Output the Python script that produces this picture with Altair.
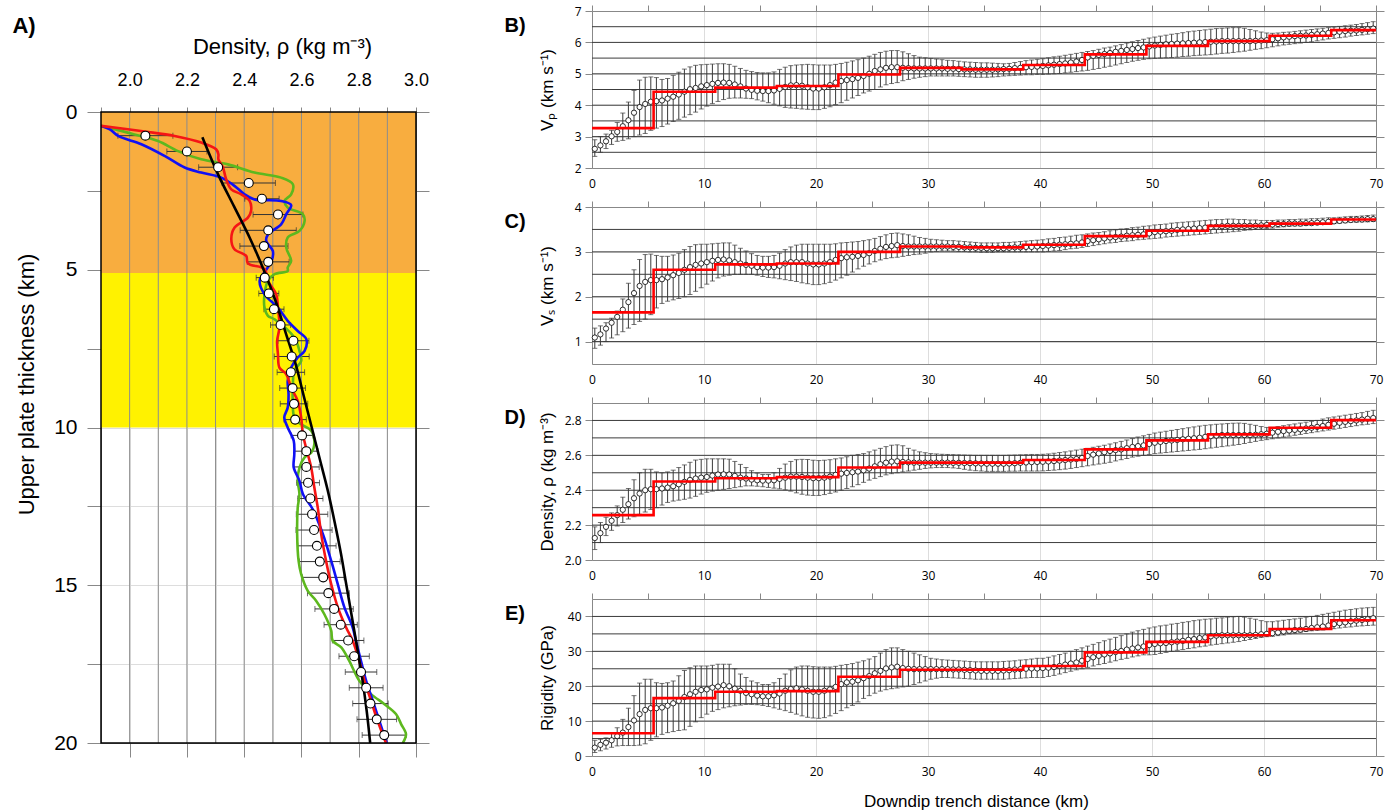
import altair as alt
import pandas as pd

# ---------------- Panel A data ----------------
depth_pts = [0.75, 1.25, 1.75, 2.25, 2.75, 3.25, 3.75, 4.25, 4.75, 5.25,
             5.75, 6.25, 6.75, 7.25, 7.75, 8.25, 8.75, 9.25, 9.75, 10.25,
             10.75, 11.25, 11.75, 12.25, 12.75, 13.25, 13.75, 14.25, 14.75, 15.25,
             15.75, 16.25, 16.75, 17.25, 17.75, 18.25, 18.75, 19.25, 19.75]
rho_pts = [2.055, 2.200, 2.309, 2.416, 2.462, 2.518, 2.484, 2.469, 2.484, 2.472,
           2.486, 2.504, 2.527, 2.572, 2.566, 2.563, 2.569, 2.574, 2.578, 2.602,
           2.617, 2.617, 2.623, 2.631, 2.637, 2.644, 2.654, 2.664, 2.676, 2.694,
           2.714, 2.737, 2.763, 2.784, 2.808, 2.826, 2.841, 2.863, 2.889]
rho_err = [0.096, 0.070, 0.068, 0.093, 0.060, 0.087, 0.098, 0.084, 0.073, 0.030,
           0.035, 0.035, 0.035, 0.054, 0.061, 0.048, 0.045, 0.048, 0.039, 0.038,
           0.041, 0.045, 0.040, 0.044, 0.055, 0.063, 0.067, 0.071, 0.073, 0.073,
           0.067, 0.058, 0.055, 0.053, 0.055, 0.059, 0.062, 0.069, 0.077]

red_depth = [0.44, 0.62, 0.76, 0.97, 1.18, 1.34, 1.5, 1.76, 2.13, 2.45, 2.61, 2.82, 3.14, 3.35,
             3.67, 4.03, 4.35, 4.56, 4.8, 4.98, 5.35, 5.78, 6.2, 6.83, 7.26, 7.68, 8.1, 8.31,
             8.73, 9.16, 9.68, 10.21, 10.64, 11.27, 11.9, 12.54, 13.38, 14.23, 14.97, 15.7,
             16.34, 16.76, 17.4, 18.03, 18.66, 19.3, 20.0]
red_rho = [1.90, 2.053, 2.157, 2.25, 2.302, 2.31, 2.31, 2.326, 2.337, 2.355, 2.39, 2.419, 2.424, 2.413,
           2.366, 2.355, 2.366, 2.407, 2.413, 2.471, 2.483, 2.512, 2.518, 2.523, 2.515, 2.518, 2.523, 2.547,
           2.564, 2.587, 2.599, 2.605, 2.616, 2.634, 2.645, 2.657, 2.669, 2.686, 2.704, 2.727,
           2.756, 2.779, 2.802, 2.82, 2.843, 2.866, 2.895]

blue_depth = [0.44, 0.55, 0.76, 1.02, 1.39, 1.76, 1.92, 2.08, 2.34, 2.6, 2.77, 2.82, 2.95, 3.24,
              3.56, 3.88, 4.09, 4.4, 4.72, 5.04, 5.35, 5.78, 6.2, 6.62, 6.94, 7.2, 7.57, 7.78,
              8.1, 8.52, 8.95, 9.37, 9.68, 10.0, 10.42, 10.85, 11.27, 11.69, 12.11, 12.6, 13.38,
              14.23, 14.97, 15.7, 16.34, 16.76, 17.4, 18.03, 18.66, 19.3, 20.0]
blue_rho = [1.90, 1.931, 1.96, 2.041, 2.122, 2.192, 2.25, 2.32, 2.366, 2.40, 2.436, 2.529, 2.564, 2.547,
            2.529, 2.483, 2.477, 2.50, 2.496, 2.474, 2.454, 2.471, 2.518, 2.552, 2.587, 2.617, 2.611, 2.587,
            2.564, 2.552, 2.555, 2.552, 2.54, 2.552, 2.573, 2.575, 2.573, 2.593, 2.605, 2.64, 2.675,
            2.704, 2.727, 2.75, 2.779, 2.79, 2.808, 2.826, 2.849, 2.872, 2.898]

green_depth = [0.44, 0.71, 0.92, 1.24, 1.5, 1.66, 1.92, 2.08, 2.29, 2.61, 2.82, 3.03, 3.24, 3.45,
               3.77, 3.98, 4.3, 4.72, 4.93, 5.04, 5.14, 5.35, 5.78, 6.2, 6.46, 6.57, 7.15, 7.57,
               7.89, 8.2, 8.73, 9.37, 9.68, 9.9, 10.1, 10.53, 10.8, 10.95, 11.27, 11.69, 12.11,
               12.54, 13.38, 14.23, 14.65, 15.18, 15.49, 15.92, 16.44, 16.76, 16.97, 17.4, 18.03,
               18.45, 18.77, 19.08, 19.4, 19.72, 20.0]
green_rho = [1.90, 2.017, 2.099, 2.169, 2.25, 2.343, 2.436, 2.529, 2.57, 2.564, 2.541, 2.552, 2.605, 2.611,
             2.593, 2.552, 2.547, 2.564, 2.552, 2.552, 2.506, 2.483, 2.471, 2.471, 2.483, 2.506, 2.575, 2.593,
             2.599, 2.575, 2.57, 2.57, 2.575, 2.599, 2.634, 2.645, 2.634, 2.611, 2.593, 2.587, 2.593,
             2.587, 2.585, 2.59, 2.599, 2.622, 2.651, 2.68, 2.704, 2.709, 2.739, 2.767, 2.802,
             2.843, 2.89, 2.93, 2.948, 2.965, 2.954]

fit_depth = [0.8, 2, 3, 4, 5, 6, 7, 8, 9, 10, 11, 12, 13, 14, 15, 16, 17, 18, 19, 20]
fit_rho = [2.254, 2.31, 2.365, 2.42, 2.468, 2.51, 2.545, 2.58, 2.608, 2.636, 2.664, 2.692,
           2.716, 2.738, 2.757, 2.776, 2.795, 2.813, 2.828, 2.84]

zone_top = [0, 5.1]
zone_bot = [5.1, 10]
zone_color = ["#F8AD3F", "#FFF200"]

a_grid = [2.0, 2.1, 2.2, 2.3, 2.4, 2.5, 2.6, 2.7, 2.8, 2.9]
a_top_ticks = [1.9, 2.0, 2.1, 2.2, 2.3, 2.4, 2.5, 2.6, 2.7, 2.8, 2.9, 3.0]
a_x_labels = [2.0, 2.2, 2.4, 2.6, 2.8, 3.0]
a_y_ticks = [0, 2.5, 5, 7.5, 10, 12.5, 15, 17.5, 20]

# ---------------- Panels B-E data ----------------
dist = [0.25 + 0.5 * i for i in range(140)]

vp_mean = [2.61, 2.72, 2.85, 3.01, 3.15, 3.33, 3.52, 3.76, 3.94, 4.04,
           4.11, 4.13, 4.15, 4.21, 4.27, 4.34, 4.43, 4.51, 4.55, 4.60,
           4.64, 4.68, 4.71, 4.72, 4.71, 4.66, 4.60, 4.53, 4.49, 4.46,
           4.45, 4.45, 4.47, 4.52, 4.58, 4.63, 4.64, 4.62, 4.57, 4.53,
           4.53, 4.57, 4.64, 4.72, 4.77, 4.80, 4.83, 4.87, 4.93, 5.00,
           5.09, 5.14, 5.19, 5.21, 5.21, 5.19, 5.18, 5.17, 5.17, 5.17,
           5.17, 5.17, 5.17, 5.16, 5.16, 5.15, 5.14, 5.14, 5.13, 5.13,
           5.13, 5.13, 5.14, 5.15, 5.16, 5.18, 5.19, 5.21, 5.22, 5.23,
           5.25, 5.27, 5.29, 5.31, 5.33, 5.36, 5.39, 5.44, 5.52, 5.57,
           5.60, 5.63, 5.66, 5.70, 5.73, 5.76, 5.79, 5.82, 5.84, 5.87,
           5.90, 5.92, 5.94, 5.95, 5.96, 5.97, 5.98, 5.99, 6.00, 6.01,
           6.02, 6.03, 6.04, 6.04, 6.04, 6.04, 6.04, 6.04, 6.05, 6.06,
           6.07, 6.10, 6.13, 6.16, 6.18, 6.20, 6.21, 6.22, 6.24, 6.26,
           6.28, 6.30, 6.32, 6.34, 6.36, 6.37, 6.38, 6.40, 6.42, 6.44]
vp_hi = [2.90, 3.00, 3.08, 3.20, 3.45, 3.75, 4.10, 4.47, 4.80, 4.89,
         4.90, 4.88, 4.82, 4.85, 4.95, 5.05, 5.15, 5.22, 5.27, 5.29,
         5.30, 5.31, 5.32, 5.32, 5.30, 5.24, 5.17, 5.11, 5.07, 5.04,
         5.03, 5.03, 5.06, 5.14, 5.21, 5.26, 5.28, 5.29, 5.30, 5.29,
         5.28, 5.28, 5.28, 5.30, 5.33, 5.37, 5.41, 5.45, 5.50, 5.56,
         5.62, 5.68, 5.72, 5.74, 5.74, 5.70, 5.64, 5.58, 5.53, 5.51,
         5.49, 5.47, 5.45, 5.43, 5.42, 5.40, 5.38, 5.37, 5.36, 5.35,
         5.35, 5.34, 5.33, 5.32, 5.33, 5.36, 5.39, 5.42, 5.44, 5.46,
         5.48, 5.51, 5.54, 5.56, 5.59, 5.62, 5.65, 5.68, 5.71, 5.74,
         5.78, 5.82, 5.85, 5.89, 5.93, 5.98, 6.02, 6.06, 6.10, 6.14,
         6.17, 6.20, 6.23, 6.26, 6.28, 6.31, 6.34, 6.36, 6.38, 6.40,
         6.42, 6.44, 6.45, 6.46, 6.47, 6.47, 6.45, 6.41, 6.37, 6.33,
         6.30, 6.29, 6.30, 6.32, 6.33, 6.35, 6.37, 6.39, 6.41, 6.43,
         6.45, 6.47, 6.49, 6.51, 6.53, 6.55, 6.57, 6.60, 6.63, 6.66]
vp_lo = [2.37, 2.50, 2.62, 2.75, 2.85, 2.88, 2.93, 3.00, 3.05, 3.10,
         3.20, 3.27, 3.32, 3.40, 3.48, 3.55, 3.62, 3.70, 3.78, 3.88,
         3.97, 4.05, 4.12, 4.18, 4.22, 4.23, 4.23, 4.22, 4.21, 4.17,
         4.13, 4.08, 4.03, 3.98, 3.93, 3.91, 3.90, 3.88, 3.87, 3.86,
         3.86, 3.90, 3.95, 4.02, 4.08, 4.16, 4.23, 4.31, 4.39, 4.45,
         4.50, 4.58, 4.65, 4.69, 4.72, 4.78, 4.82, 4.86, 4.89, 4.91,
         4.93, 4.93, 4.93, 4.93, 4.93, 4.92, 4.91, 4.90, 4.89, 4.89,
         4.89, 4.90, 4.91, 4.93, 4.94, 4.95, 4.96, 4.97, 4.97, 4.98,
         4.98, 4.99, 5.00, 5.01, 5.03, 5.05, 5.07, 5.09, 5.11, 5.14,
         5.17, 5.21, 5.24, 5.28, 5.32, 5.36, 5.40, 5.43, 5.46, 5.48,
         5.49, 5.50, 5.51, 5.52, 5.53, 5.55, 5.56, 5.58, 5.59, 5.60,
         5.61, 5.63, 5.65, 5.66, 5.68, 5.70, 5.72, 5.75, 5.78, 5.80,
         5.83, 5.86, 5.89, 5.92, 5.94, 5.96, 5.98, 6.00, 6.02, 6.05,
         6.08, 6.11, 6.13, 6.15, 6.17, 6.20, 6.22, 6.24, 6.26, 6.28]

vs_mean = [1.09, 1.16, 1.29, 1.42, 1.55, 1.71, 1.88, 2.08, 2.24, 2.33,
           2.37, 2.37, 2.39, 2.43, 2.48, 2.53, 2.60, 2.66, 2.71, 2.74,
           2.77, 2.80, 2.82, 2.83, 2.81, 2.77, 2.74, 2.71, 2.69, 2.66,
           2.65, 2.65, 2.66, 2.69, 2.74, 2.77, 2.77, 2.77, 2.74, 2.72,
           2.72, 2.74, 2.77, 2.82, 2.86, 2.88, 2.89, 2.91, 2.93, 2.97,
           3.02, 3.07, 3.11, 3.13, 3.15, 3.13, 3.12, 3.12, 3.12, 3.12,
           3.12, 3.12, 3.12, 3.12, 3.11, 3.11, 3.10, 3.10, 3.09, 3.09,
           3.08, 3.08, 3.08, 3.08, 3.09, 3.10, 3.10, 3.11, 3.11, 3.12,
           3.13, 3.14, 3.15, 3.16, 3.17, 3.18, 3.19, 3.21, 3.24, 3.26,
           3.28, 3.30, 3.32, 3.33, 3.34, 3.36, 3.37, 3.38, 3.39, 3.41,
           3.44, 3.45, 3.46, 3.47, 3.49, 3.50, 3.51, 3.52, 3.53, 3.54,
           3.55, 3.56, 3.57, 3.58, 3.58, 3.58, 3.58, 3.58, 3.58, 3.59,
           3.60, 3.61, 3.62, 3.62, 3.63, 3.63, 3.63, 3.64, 3.64, 3.65,
           3.66, 3.67, 3.68, 3.69, 3.70, 3.71, 3.72, 3.72, 3.73, 3.73]
vs_hi = [1.30, 1.35, 1.42, 1.52, 1.68, 1.95, 2.30, 2.60, 2.83, 2.94,
         2.95, 2.92, 2.90, 2.90, 2.93, 2.97, 3.05, 3.12, 3.16, 3.17,
         3.17, 3.18, 3.19, 3.20, 3.20, 3.15, 3.08, 3.02, 2.96, 2.92,
         2.90, 2.90, 2.92, 2.97, 3.05, 3.11, 3.15, 3.17, 3.17, 3.17,
         3.17, 3.17, 3.17, 3.18, 3.20, 3.21, 3.22, 3.23, 3.25, 3.27,
         3.30, 3.34, 3.38, 3.41, 3.42, 3.40, 3.38, 3.35, 3.32, 3.30,
         3.28, 3.27, 3.26, 3.25, 3.25, 3.24, 3.23, 3.22, 3.21, 3.20,
         3.20, 3.20, 3.20, 3.21, 3.21, 3.22, 3.23, 3.24, 3.25, 3.26,
         3.27, 3.29, 3.30, 3.32, 3.33, 3.35, 3.37, 3.38, 3.40, 3.42,
         3.43, 3.45, 3.47, 3.49, 3.51, 3.52, 3.54, 3.55, 3.57, 3.58,
         3.60, 3.61, 3.62, 3.64, 3.65, 3.66, 3.67, 3.68, 3.69, 3.70,
         3.71, 3.72, 3.72, 3.73, 3.73, 3.72, 3.72, 3.71, 3.71, 3.70,
         3.70, 3.70, 3.71, 3.71, 3.72, 3.72, 3.73, 3.73, 3.74, 3.74,
         3.75, 3.76, 3.76, 3.77, 3.78, 3.79, 3.79, 3.80, 3.81, 3.82]
vs_lo = [0.85, 0.92, 1.00, 1.08, 1.15, 1.22, 1.30, 1.38, 1.45, 1.50,
         1.60, 1.75, 1.85, 1.90, 1.93, 1.96, 2.00, 2.05, 2.12, 2.20,
         2.28, 2.35, 2.42, 2.46, 2.48, 2.50, 2.50, 2.50, 2.50, 2.48,
         2.45, 2.43, 2.42, 2.40, 2.38, 2.36, 2.34, 2.31, 2.29, 2.27,
         2.27, 2.29, 2.32, 2.37, 2.42, 2.48, 2.55, 2.62, 2.68, 2.73,
         2.78, 2.82, 2.85, 2.87, 2.88, 2.90, 2.92, 2.94, 2.95, 2.97,
         3.00, 3.01, 3.02, 3.02, 3.02, 3.01, 3.01, 3.00, 3.00, 2.99,
         2.99, 2.99, 3.00, 3.00, 3.00, 3.00, 3.00, 3.00, 3.00, 3.00,
         3.00, 3.01, 3.02, 3.03, 3.05, 3.07, 3.08, 3.10, 3.12, 3.14,
         3.16, 3.18, 3.20, 3.21, 3.23, 3.24, 3.25, 3.27, 3.28, 3.29,
         3.30, 3.31, 3.33, 3.34, 3.35, 3.36, 3.37, 3.38, 3.39, 3.40,
         3.41, 3.42, 3.43, 3.44, 3.45, 3.46, 3.48, 3.49, 3.50, 3.51,
         3.52, 3.53, 3.55, 3.56, 3.57, 3.58, 3.58, 3.59, 3.60, 3.61,
         3.62, 3.63, 3.63, 3.64, 3.65, 3.66, 3.66, 3.67, 3.67, 3.68]

den_mean = [2.126, 2.154, 2.190, 2.225, 2.257, 2.288, 2.320, 2.354, 2.381, 2.400,
            2.406, 2.406, 2.410, 2.415, 2.423, 2.434, 2.448, 2.459, 2.467, 2.472,
            2.476, 2.484, 2.490, 2.491, 2.490, 2.482, 2.472, 2.467, 2.461, 2.457,
            2.455, 2.455, 2.457, 2.465, 2.472, 2.478, 2.478, 2.476, 2.472, 2.469,
            2.469, 2.472, 2.478, 2.488, 2.495, 2.499, 2.503, 2.507, 2.514, 2.524,
            2.537, 2.549, 2.558, 2.564, 2.566, 2.562, 2.560, 2.558, 2.558, 2.558,
            2.558, 2.558, 2.558, 2.558, 2.557, 2.557, 2.556, 2.555, 2.554, 2.553,
            2.552, 2.552, 2.552, 2.552, 2.553, 2.555, 2.557, 2.559, 2.561, 2.562,
            2.563, 2.565, 2.567, 2.570, 2.573, 2.576, 2.579, 2.585, 2.596, 2.604,
            2.611, 2.618, 2.625, 2.630, 2.634, 2.641, 2.648, 2.653, 2.657, 2.665,
            2.672, 2.677, 2.682, 2.685, 2.688, 2.692, 2.695, 2.698, 2.701, 2.706,
            2.710, 2.713, 2.716, 2.716, 2.716, 2.716, 2.716, 2.716, 2.718, 2.721,
            2.724, 2.730, 2.735, 2.739, 2.743, 2.746, 2.749, 2.754, 2.758, 2.763,
            2.768, 2.775, 2.781, 2.787, 2.792, 2.796, 2.800, 2.805, 2.810, 2.814]
den_hi = [2.190, 2.215, 2.245, 2.270, 2.310, 2.360, 2.410, 2.460, 2.500, 2.520,
          2.520, 2.505, 2.500, 2.505, 2.515, 2.530, 2.545, 2.560, 2.573, 2.577,
          2.580, 2.580, 2.580, 2.580, 2.578, 2.565, 2.548, 2.530, 2.512, 2.498,
          2.490, 2.490, 2.500, 2.525, 2.550, 2.565, 2.575, 2.577, 2.576, 2.572,
          2.570, 2.572, 2.575, 2.580, 2.585, 2.592, 2.600, 2.605, 2.610, 2.620,
          2.630, 2.640, 2.650, 2.658, 2.660, 2.655, 2.640, 2.630, 2.620, 2.615,
          2.610, 2.608, 2.606, 2.605, 2.604, 2.603, 2.602, 2.601, 2.600, 2.600,
          2.600, 2.600, 2.600, 2.600, 2.601, 2.602, 2.603, 2.604, 2.605, 2.605,
          2.606, 2.608, 2.612, 2.616, 2.620, 2.625, 2.630, 2.635, 2.640, 2.646,
          2.652, 2.658, 2.665, 2.672, 2.680, 2.688, 2.696, 2.705, 2.712, 2.720,
          2.728, 2.733, 2.738, 2.743, 2.748, 2.753, 2.758, 2.763, 2.768, 2.772,
          2.775, 2.778, 2.780, 2.782, 2.784, 2.785, 2.783, 2.778, 2.772, 2.765,
          2.760, 2.760, 2.765, 2.770, 2.775, 2.780, 2.785, 2.790, 2.795, 2.800,
          2.808, 2.815, 2.820, 2.825, 2.830, 2.835, 2.840, 2.845, 2.852, 2.858]
den_lo = [2.060, 2.100, 2.140, 2.170, 2.195, 2.215, 2.235, 2.248, 2.262, 2.275,
          2.290, 2.300, 2.315, 2.330, 2.338, 2.343, 2.348, 2.355, 2.365, 2.378,
          2.388, 2.395, 2.400, 2.405, 2.410, 2.415, 2.420, 2.425, 2.425, 2.423,
          2.420, 2.416, 2.412, 2.408, 2.402, 2.395, 2.385, 2.377, 2.372, 2.370,
          2.370, 2.375, 2.382, 2.390, 2.400, 2.410, 2.420, 2.432, 2.445, 2.458,
          2.468, 2.478, 2.488, 2.495, 2.500, 2.505, 2.510, 2.515, 2.520, 2.525,
          2.528, 2.530, 2.530, 2.530, 2.528, 2.525, 2.520, 2.515, 2.512, 2.510,
          2.508, 2.508, 2.508, 2.508, 2.509, 2.509, 2.510, 2.510, 2.510, 2.510,
          2.511, 2.513, 2.515, 2.518, 2.521, 2.525, 2.530, 2.535, 2.540, 2.545,
          2.550, 2.555, 2.560, 2.568, 2.575, 2.582, 2.590, 2.595, 2.600, 2.605,
          2.610, 2.613, 2.616, 2.619, 2.622, 2.625, 2.628, 2.631, 2.634, 2.638,
          2.642, 2.646, 2.650, 2.654, 2.658, 2.662, 2.668, 2.674, 2.680, 2.686,
          2.690, 2.695, 2.700, 2.705, 2.710, 2.715, 2.720, 2.725, 2.730, 2.735,
          2.740, 2.745, 2.750, 2.755, 2.760, 2.765, 2.770, 2.775, 2.778, 2.782]

rig_mean = [2.4, 3.2, 3.8, 4.5, 5.7, 6.7, 8.3, 10.2, 12.0, 13.2,
            13.7, 13.7, 13.9, 14.4, 15.1, 15.8, 16.9, 17.7, 18.4, 18.9,
            19.1, 19.6, 19.9, 20.3, 20.0, 19.3, 18.7, 18.1, 17.7, 17.3,
            17.1, 17.1, 17.4, 17.9, 18.7, 19.2, 19.4, 19.1, 18.7, 18.4,
            18.4, 18.7, 19.1, 19.8, 20.6, 21.1, 21.3, 21.7, 22.3, 22.9,
            23.7, 24.4, 25.1, 25.4, 25.6, 25.2, 25.0, 24.9, 24.9, 24.9,
            24.9, 24.9, 24.9, 24.9, 24.8, 24.8, 24.7, 24.6, 24.5, 24.4,
            24.4, 24.4, 24.4, 24.5, 24.6, 24.8, 24.9, 25.0, 25.1, 25.1,
            25.2, 25.3, 25.5, 25.8, 26.2, 26.5, 26.8, 27.3, 27.8, 28.3,
            28.7, 29.1, 29.4, 29.8, 30.1, 30.5, 30.8, 31.1, 31.4, 31.8,
            32.1, 32.3, 32.4, 32.6, 32.8, 33.0, 33.3, 33.5, 33.8, 34.0,
            34.3, 34.5, 34.6, 34.6, 34.6, 34.6, 34.6, 34.6, 34.7, 34.9,
            35.0, 35.2, 35.4, 35.7, 35.9, 36.1, 36.2, 36.4, 36.7, 36.9,
            37.1, 37.4, 37.8, 38.1, 38.3, 38.6, 38.8, 39.0, 39.2, 39.5]
rig_hi = [4.5, 4.8, 5.2, 6.5, 8.1, 10.5, 13.7, 17.3, 20.9, 22.0,
          22.0, 21.0, 20.8, 21.0, 21.5, 23.0, 24.5, 25.3, 25.8, 25.8,
          25.8, 26.0, 26.3, 26.3, 26.3, 25.0, 23.5, 22.5, 21.5, 21.0,
          20.5, 20.5, 21.0, 22.2, 23.5, 24.7, 25.5, 25.8, 25.8, 25.6,
          25.5, 25.5, 25.5, 25.7, 26.0, 26.2, 26.5, 26.9, 27.3, 27.8,
          28.5, 29.5, 30.5, 31.0, 31.0, 30.5, 30.0, 29.5, 29.0, 28.5,
          28.0, 27.8, 27.6, 27.5, 27.4, 27.3, 27.2, 27.1, 27.0, 27.0,
          27.0, 27.0, 27.0, 27.1, 27.2, 27.3, 27.5, 27.6, 27.8, 28.0,
          28.0, 28.3, 28.7, 29.1, 29.5, 30.0, 30.5, 31.0, 31.5, 32.0,
          32.5, 33.0, 33.5, 34.0, 34.5, 35.0, 35.5, 35.9, 36.3, 36.7,
          37.0, 37.3, 37.5, 37.8, 38.0, 38.3, 38.5, 38.8, 39.0, 39.2,
          39.3, 39.5, 39.6, 39.8, 39.9, 40.0, 39.8, 39.5, 39.2, 38.8,
          38.5, 38.5, 38.7, 38.9, 39.1, 39.3, 39.5, 39.8, 40.0, 40.3,
          40.6, 40.9, 41.2, 41.5, 41.8, 42.0, 42.2, 42.4, 42.5, 42.6]
rig_lo = [1.0, 1.5, 2.0, 2.5, 2.9, 3.0, 3.0, 3.0, 3.1, 3.5,
          4.5, 5.5, 6.2, 6.7, 7.0, 7.3, 7.5, 8.5, 9.8, 11.0,
          12.0, 12.8, 13.3, 13.8, 14.1, 14.4, 14.6, 14.8, 14.8, 14.7,
          14.5, 14.2, 13.8, 13.4, 13.0, 12.5, 12.0, 11.5, 11.1, 10.9,
          10.8, 11.0, 11.5, 12.2, 13.0, 13.8, 14.5, 15.5, 16.5, 17.3,
          18.0, 18.6, 19.0, 19.3, 19.5, 19.8, 20.0, 20.5, 21.0, 21.5,
          22.0, 22.3, 22.5, 22.5, 22.4, 22.3, 22.2, 22.1, 22.0, 22.0,
          22.0, 22.0, 22.0, 22.0, 22.1, 22.2, 22.3, 22.4, 22.5, 22.5,
          22.5, 22.8, 23.1, 23.5, 23.9, 24.3, 24.7, 25.0, 25.4, 25.8,
          26.2, 26.5, 26.9, 27.3, 27.7, 28.0, 28.4, 28.7, 29.0, 29.0,
          29.1, 29.4, 29.7, 30.0, 30.3, 30.5, 30.8, 31.0, 31.3, 31.5,
          31.8, 32.0, 32.2, 32.4, 32.6, 32.8, 33.1, 33.4, 33.7, 34.0,
          34.2, 34.3, 34.5, 34.7, 35.0, 35.2, 35.5, 35.7, 35.9, 36.0,
          36.1, 36.3, 36.5, 36.7, 36.9, 37.0, 37.2, 37.3, 37.4, 37.5]

step_x = [0, 5.5, 11, 16.5, 22, 27.5, 33, 38.5, 44, 49.5, 55, 60.5, 66, 70]
vp_step = [3.27, 4.43, 4.56, 4.61, 4.98, 5.19, 5.14, 5.28, 5.62, 5.89, 6.04, 6.21, 6.39, 6.39]
vs_step = [1.65, 2.60, 2.72, 2.74, 3.00, 3.12, 3.10, 3.16, 3.35, 3.47, 3.58, 3.63, 3.72, 3.72]
den_step = [2.257, 2.450, 2.469, 2.475, 2.530, 2.558, 2.558, 2.573, 2.634, 2.686, 2.720, 2.758, 2.802, 2.802]
rig_step = [6.5, 16.6, 18.4, 18.6, 22.7, 24.7, 24.7, 25.8, 29.7, 32.7, 34.6, 36.4, 38.9, 38.9]

x_labels = [0, 10, 20, 30, 40, 50, 60, 70]
x_top_ticks = [0, 5, 10, 15, 20, 25, 30, 35, 40, 45, 50, 55, 60, 65, 70]

# ---------------- Style ----------------
FONT_A = "Liberation Sans"
FONT_T = "Open Sans"
WA, HA = 315, 631
WR, HR = 784, 157

one = pd.DataFrame({"a": [0]})

# ---------------- Panel A ----------------
xA = alt.Scale(domain=[1.9, 3.0], nice=False, zero=False)
yA = alt.Scale(domain=[0, 20], nice=False, zero=False, reverse=True)

zones = pd.DataFrame({"top": zone_top, "bot": zone_bot, "c": zone_color})
bg = alt.Chart(zones).mark_rect().encode(
    y=alt.Y("top:Q", scale=yA, axis=alt.Axis(
        orient="left", values=a_y_ticks, tickSize=14, labelPadding=10,
        labelExpr="datum.value % 5 == 0 ? datum.label : ''",
        labelFont=FONT_A, labelFontSize=21, labelFlush=False, labelOverlap=False,
        title="Upper plate thickness (km)", titleFont=FONT_A, titleFontSize=22,
        titleFontWeight="normal", titleX=-75, titleY=272, titleBaseline="middle",
        titleAlign="center", titleAngle=270)),
    y2="bot:Q",
    x=alt.value(0), x2=alt.value(WA),
    color=alt.Color("c:N", scale=None),
)

gridA = alt.Chart(pd.DataFrame({"g": a_grid})).mark_rule(color="#8d8d8d", strokeWidth=1).encode(
    x=alt.X("g:Q", scale=xA, axis=alt.Axis(
        orient="top", values=a_top_ticks, tickSize=5, labelPadding=18,
        labelExpr="round(datum.value * 10) % 2 == 0 ? format(datum.value, '.1f') : ''",
        labelFont=FONT_A, labelFontSize=18, labelFlush=False, labelOverlap=False,
        title="Density, ρ (kg m⁻³)", titleFont=FONT_A, titleFontSize=22,
        titleFontWeight="normal", titleX=181, titleY=-66, titleBaseline="middle",
        titleAlign="center")),
    y=alt.value(0), y2=alt.value(HA),
)

dfA = pd.DataFrame({"d": depth_pts, "r": rho_pts, "e": rho_err})
dfA["lo"] = dfA["r"] - dfA["e"]
dfA["hi"] = dfA["r"] + dfA["e"]

errA = alt.Chart(dfA).mark_rule(color="#333333", strokeWidth=1).encode(
    x=alt.X("lo:Q", scale=xA, axis=None), x2="hi:Q",
    y=alt.Y("d:Q", scale=yA, axis=None))
capA_lo = alt.Chart(dfA).mark_tick(orient="vertical", size=6, thickness=1, color="#333333").encode(
    x=alt.X("lo:Q", scale=xA, axis=None), y=alt.Y("d:Q", scale=yA, axis=None))
capA_hi = alt.Chart(dfA).mark_tick(orient="vertical", size=6, thickness=1, color="#333333").encode(
    x=alt.X("hi:Q", scale=xA, axis=None), y=alt.Y("d:Q", scale=yA, axis=None))


def curve(d, r, color):
    df = pd.DataFrame({"d": d, "r": r, "o": list(range(len(d)))})
    return alt.Chart(df).mark_line(color=color, strokeWidth=2.6, interpolate="catmull-rom",
                                   clip=True).encode(
        x=alt.X("r:Q", scale=xA, axis=None),
        y=alt.Y("d:Q", scale=yA, axis=None),
        order="o:Q")


green = curve(green_depth, green_rho, "#5DB81E")
blue = curve(blue_depth, blue_rho, "#1010F5")
red = curve(red_depth, red_rho, "#F51515")

fit_df = pd.DataFrame({"d": fit_depth, "r": fit_rho, "o": list(range(len(fit_depth)))})
black = alt.Chart(fit_df).mark_line(color="black", strokeWidth=2.6, interpolate="catmull-rom").encode(
    x=alt.X("r:Q", scale=xA, axis=alt.Axis(
        orient="bottom", values=a_x_labels, labels=False, tickSize=14, title=None)),
    y=alt.Y("d:Q", scale=yA, axis=alt.Axis(
        orient="right", values=a_y_ticks, labels=False, tickSize=13, title=None)),
    order="o:Q")

ptsA = alt.Chart(dfA).mark_circle(size=80, fill="white", stroke="black", strokeWidth=1.1,
                                  opacity=1).encode(
    x=alt.X("r:Q", scale=xA, axis=None), y=alt.Y("d:Q", scale=yA, axis=None))

frameA = alt.Chart(one).mark_rect(fill="white", fillOpacity=0, stroke="black", strokeWidth=1.5).encode(
    x=alt.value(0), x2=alt.value(WA), y=alt.value(0), y2=alt.value(HA))

labelA = alt.Chart(one).mark_text(text="A)", font=FONT_A, fontSize=22, fontWeight="bold",
                                  align="center", baseline="middle").encode(
    x=alt.value(-77), y=alt.value(-86))

panelA = alt.layer(bg, gridA, errA, capA_lo, capA_hi, green, blue, red, black, ptsA,
                   frameA, labelA).properties(width=WA, height=HA).resolve_axis(
    x="independent", y="independent")

spacer = alt.Chart(one).mark_point(opacity=0, size=1).encode(
    x=alt.value(0), y=alt.value(0)
).properties(width=WA, height=101, view=alt.ViewBackground(strokeOpacity=0, stroke="white"))

left = alt.vconcat(spacer, panelA, spacing=0, bounds="flush")


# ---------------- Panels B-E ----------------
def panel(mean, lo, hi, steps, domain, grid_vals, label_vals, fmt, ytitle, letter, xtitle):
    xs = alt.Scale(domain=[0, 70], nice=False, zero=False)
    ys = alt.Scale(domain=domain, nice=False, zero=False)
    df = pd.DataFrame({"x": dist, "m": mean, "lo": lo, "hi": hi})

    grid = alt.Chart(pd.DataFrame({"g": grid_vals})).mark_rule(color="#3c3c3c", strokeWidth=1).encode(
        y=alt.Y("g:Q", scale=ys, axis=alt.Axis(
            orient="left", values=label_vals, format=fmt, tickSize=7, labelPadding=4,
            labelFont=FONT_T, labelFontSize=12, labelFlush=False, labelOverlap=False,
            title=ytitle, titleFont=FONT_A, titleFontSize=17, titleFontWeight="normal",
            titleX=-45, titleY=HR / 2, titleBaseline="middle", titleAlign="center",
            titleAngle=270)),
        x=alt.value(0), x2=alt.value(WR))

    xaxis_kw = dict(orient="bottom", values=x_labels, tickSize=0, labelPadding=10,
                    labelFont=FONT_T, labelFontSize=12, labelFlush=False, labelOverlap=False)
    if xtitle:
        xaxis_kw.update(title=xtitle, titleFont=FONT_A, titleFontSize=17,
                        titleFontWeight="normal", titleX=384, titleY=45,
                        titleBaseline="middle", titleAlign="center")
    else:
        xaxis_kw.update(title=None)

    bars = alt.Chart(df).mark_rule(color="#3a3a3a", strokeWidth=1).encode(
        x=alt.X("x:Q", scale=xs, axis=alt.Axis(**xaxis_kw)),
        y=alt.Y("lo:Q", scale=ys, axis=None), y2="hi:Q")
    cap_lo = alt.Chart(df).mark_tick(orient="horizontal", size=5, thickness=1, color="#3a3a3a").encode(
        x=alt.X("x:Q", scale=xs, axis=None), y=alt.Y("lo:Q", scale=ys, axis=None))
    cap_hi = alt.Chart(df).mark_tick(orient="horizontal", size=5, thickness=1, color="#3a3a3a").encode(
        x=alt.X("x:Q", scale=xs, axis=None), y=alt.Y("hi:Q", scale=ys, axis=None))
    pts = alt.Chart(df).mark_circle(size=28, fill="white", stroke="black", strokeWidth=0.8,
                                    opacity=1).encode(
        x=alt.X("x:Q", scale=xs, axis=None), y=alt.Y("m:Q", scale=ys, axis=None))
    step = alt.Chart(pd.DataFrame({"x": step_x, "v": steps})).mark_line(
        color="#FF0000", strokeWidth=2.6, interpolate="step-after").encode(
        x=alt.X("x:Q", scale=xs, axis=alt.Axis(
            orient="top", values=x_top_ticks, labels=False, tickSize=6, title=None)),
        y=alt.Y("v:Q", scale=ys, axis=alt.Axis(
            orient="right", values=label_vals, labels=False, tickSize=8, title=None)))
    lab = alt.Chart(one).mark_text(text=letter, font=FONT_A, fontSize=20, fontWeight="bold",
                                   align="center", baseline="middle").encode(
        x=alt.value(-77), y=alt.value(15))
    return alt.layer(grid, bars, cap_lo, cap_hi, pts, step, lab).properties(
        width=WR, height=HR).resolve_axis(x="independent", y="independent")


pB = panel(vp_mean, vp_lo, vp_hi, vp_step, [2, 7],
           [2.5, 3, 3.5, 4, 4.5, 5, 5.5, 6, 6.5], [2, 3, 4, 5, 6, 7], "d",
           "Vₚ (km s⁻¹)", "B)", None)
pC = panel(vs_mean, vs_lo, vs_hi, vs_step, [0.5, 4],
           [1, 1.5, 2, 2.5, 3, 3.5], [1, 2, 3, 4], "d",
           "Vₛ (km s⁻¹)", "C)", None)
pD = panel(den_mean, den_lo, den_hi, den_step, [2.0, 2.9],
           [2.1, 2.2, 2.3, 2.4, 2.5, 2.6, 2.7, 2.8], [2.0, 2.2, 2.4, 2.6, 2.8], ".1f",
           "Density, ρ (kg m⁻³)", "D)", None)
pE = panel(rig_mean, rig_lo, rig_hi, rig_step, [0, 45],
           [5, 10, 15, 20, 25, 30, 35, 40], [0, 10, 20, 30, 40], "d",
           "Rigidity (GPa)", "E)", "Downdip trench distance (km)")

right = alt.vconcat(pB, pC, pD, pE, spacing=39, bounds="flush")

chart = alt.hconcat(left, right, spacing=73).properties(
    padding={"left": 11, "top": 4, "right": 0, "bottom": 0}
).configure_view(
    stroke="black", strokeWidth=1.5
).configure_axis(
    domain=False, grid=False, tickColor="black", tickWidth=1,
    labelColor="black", titleColor="black"
).configure(background="white")

chart.save("out.html", embed_options={"renderer": "svg", "actions": False})
